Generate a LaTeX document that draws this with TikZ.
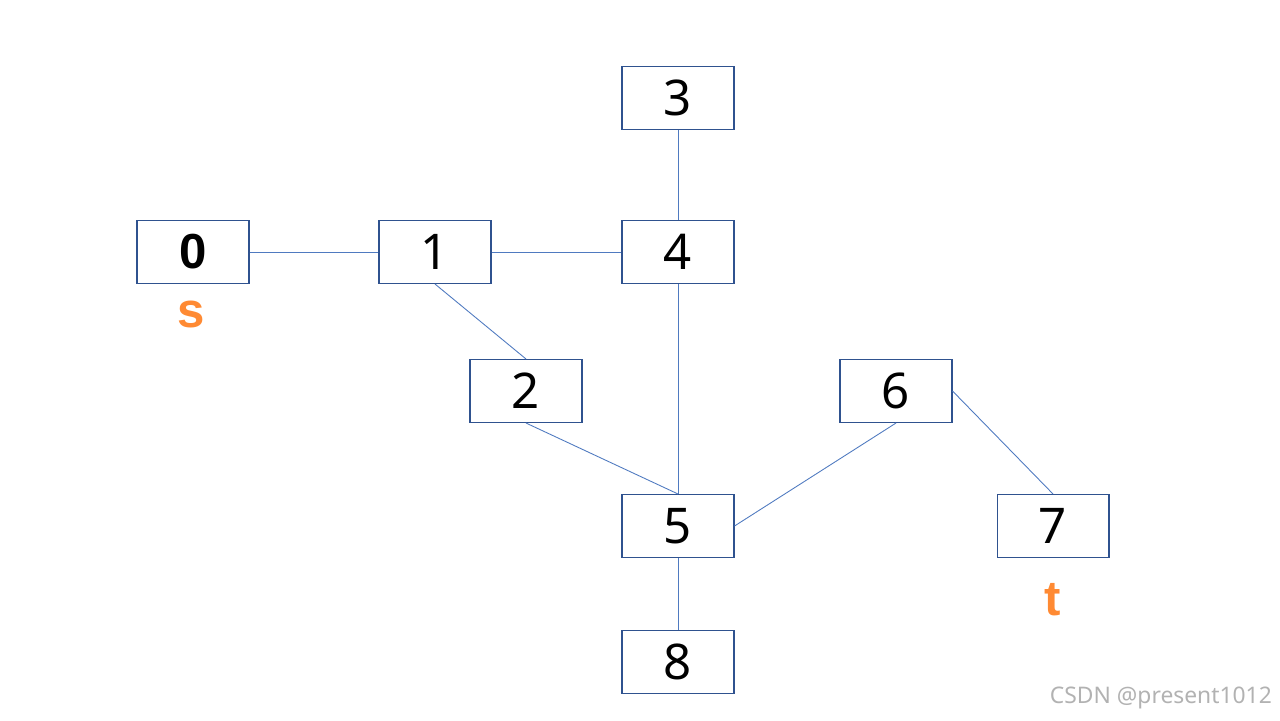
\documentclass[tikz,border=0pt]{standalone}
\usepackage{fontspec}
\setmainfont{Noto Sans}
\newfontfamily\fbold{Liberation Sans}
\begin{document}
\begin{tikzpicture}[x=0.02cm,y=-0.02cm,
  box/.style={draw=boxc,line width=0.6pt,minimum width=2.24cm,minimum height=1.26cm,inner sep=0pt,font=\fontsize{28}{30}\selectfont},
  edge/.style={draw=edgec,line width=0.5pt},
  lab/.style={text=orange!85!red!80!white,font=\fontsize{28}{28}\fbold\bfseries}]
\definecolor{boxc}{HTML}{2F528F}
\definecolor{edgec}{HTML}{4F7AC0}
\useasboundingbox (0,0) rectangle (1280,720);
\node[box] (n0) at (193,252) {\fbold\bfseries 0};
\node[box] (n1) at (435,252) {1};
\node[box] (n4) at (678,252) {4};
\node[box] (n3) at (678,98) {3};
\node[box] (n2) at (526,391) {2};
\node[box] (n6) at (896,391) {6};
\node[box] (n5) at (678,526) {5};
\node[box] (n7) at (1053,526) {7};
\node[box] (n8) at (678,662) {8};
\draw[edge] (n0) -- (n1);
\draw[edge] (n1) -- (n4);
\draw[edge] (n3) -- (n4);
\draw[edge] (n4) -- (n5);
\draw[edge] (n5) -- (n8);
\draw[edge] (n1.south) -- (n2.north);
\draw[edge] (n2.south) -- (n5.north);
\draw[edge] (n6.south) -- (n5.east);
\draw[edge] (n6.east) -- (n7.north);
\node[lab] (s) at (191,314) {s};
\node[lab] (t) at (1053,600) {t};
\node[text=gray!60,font=\fontsize{13}{14}\selectfont,anchor=east] (wm) at (1278,698) {CSDN @present1012};
\end{tikzpicture}
\end{document}
